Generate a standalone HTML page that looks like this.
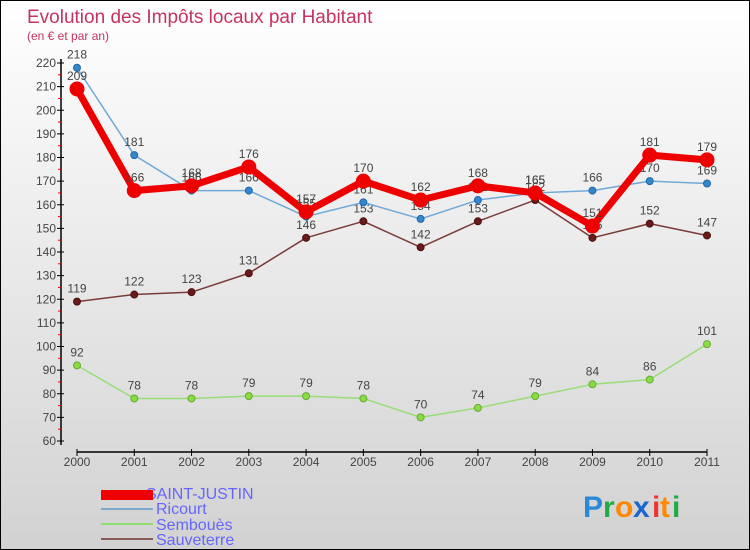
<!DOCTYPE html>
<html><head><meta charset="utf-8">
<style>
body{margin:0;}
#wrap{width:750px;height:550px;position:relative;box-sizing:border-box;border:1px solid #000;background:linear-gradient(#ffffff,#d2d2d2);font-family:"Liberation Sans",sans-serif;overflow:hidden}
svg{position:absolute;left:0;top:0}
</style></head><body>
<div id="wrap">
<svg id="chart" width="750" height="550">
<text x="26" y="22" font-size="19" fill="#c8325f">Evolution des Impôts locaux par Habitant</text>
<text x="26" y="39" font-size="12" fill="#c8325f">(en € et par an)</text>
<text x="145" y="498" font-size="16" fill="#6666ff">SAINT-JUSTIN</text>
<text x="155" y="513" font-size="16" fill="#6666ff">Ricourt</text>
<text x="155" y="529" font-size="16" fill="#6666ff">Sembouès</text>
<text x="155" y="544" font-size="16" fill="#6666ff">Sauveterre</text>
<rect x="100" y="489" width="52" height="10" fill="#ee0000"/>
<rect x="100" y="507" width="52" height="2" fill="#7aaad0"/>
<rect x="100" y="522" width="52" height="2" fill="#90dd70"/>
<rect x="100" y="537" width="52" height="2" fill="#8a5a5a"/>
<g font-size="30" font-weight="bold">
<text x="582" y="516" fill="#2a8ad8">P</text><text x="602" y="516" fill="#22aa44">r</text><text x="614" y="516" fill="#ff8800">o</text><text x="632" y="516" fill="#1a66cc">x</text><text x="651" y="516" fill="#ee3333">i</text><text x="659" y="516" fill="#ff8800">t</text><text x="671" y="516" fill="#22aa44">i</text>
</g>
</svg>
</div>
<script>
const years=["2000","2001","2002","2003","2004","2005","2006","2007","2008","2009","2010","2011"];
const yTicks=[60,70,80,90,100,110,120,130,140,150,160,170,180,190,200,210,220];
const saintJustin=[209,166,168,176,157,170,162,168,165,151,181,179];
const ricourt=[218,181,166,166,155,161,154,162,165,166,170,169];
const semboues=[92,78,78,79,79,78,70,74,79,84,86,101];
const sauveterre=[119,122,123,131,146,153,142,153,162,146,152,147];
const NS="http://www.w3.org/2000/svg";
const svg=document.getElementById('chart');
function X(i){return 76+i*(630/(years.length-1));}
function Y(v){return 62+(220-v)*(378/160);}
function mk(t,a,p){const e=document.createElementNS(NS,t);for(const k in a)e.setAttribute(k,a[k]);(p||svg).appendChild(e);return e;}
// axes
const yax=mk('line',{x1:60,y1:58,x2:60,y2:444,stroke:'#000','stroke-width':1.5});


yTicks.forEach(v=>{
  const t=mk('line',{x1:56,y1:Y(v),x2:63,y2:Y(v),stroke:'#000'});
  
  
  if(v<220){const m=mk('line',{x1:57,y1:Y(v+5),x2:60,y2:Y(v+5),stroke:'#e00'});
  
  }
  const l=mk('text',{x:55,y:Y(v)+4,'text-anchor':'end','font-size':12,fill:'#444'});
  l.textContent=v;
  
  
});
const xax=mk('line',{x1:76,y1:451,x2:706,y2:451,stroke:'#000','stroke-width':1.5});


years.forEach((y,i)=>{
  const t=mk('line',{x1:X(i),y1:448,x2:X(i),y2:455,stroke:'#000'});
  
  
  const l=mk('text',{x:X(i),y:465,'text-anchor':'middle','font-size':12,fill:'#444'});
  l.textContent=y;
  
  
});
function series(data,name,color,lw,r,dot,stroke){
  const g=mk('g',{});
  
  
  const pl=mk('polyline',{points:data.map((v,i)=>X(i)+','+Y(v)).join(' '),fill:'none',stroke:color,'stroke-width':lw,'stroke-linejoin':'round'},g);
  
  
  data.forEach((v,i)=>{
    const c=mk('circle',{cx:X(i),cy:Y(v),r:r,fill:dot,stroke:stroke,'stroke-width':1},g);
    
    
    const l=mk('text',{x:X(i),y:Y(v)-9,'text-anchor':'middle','font-size':12,fill:'#444'},g);
    l.textContent=v;
    
    
  });
}
series(semboues,'semboues','#99dd77',1.5,3.5,'#88dd44','#66aa33');
series(sauveterre,'sauveterre','#7a3a3a',1.5,3.5,'#6a1a1a','#4a1010');
series(ricourt,'ricourt','#70a8d8',1.5,3.5,'#3388cc','#2266aa');
series(saintJustin,'saint-justin','#ee0000',7,7,'#ee0000','#ee0000');
</script>
</body></html>
